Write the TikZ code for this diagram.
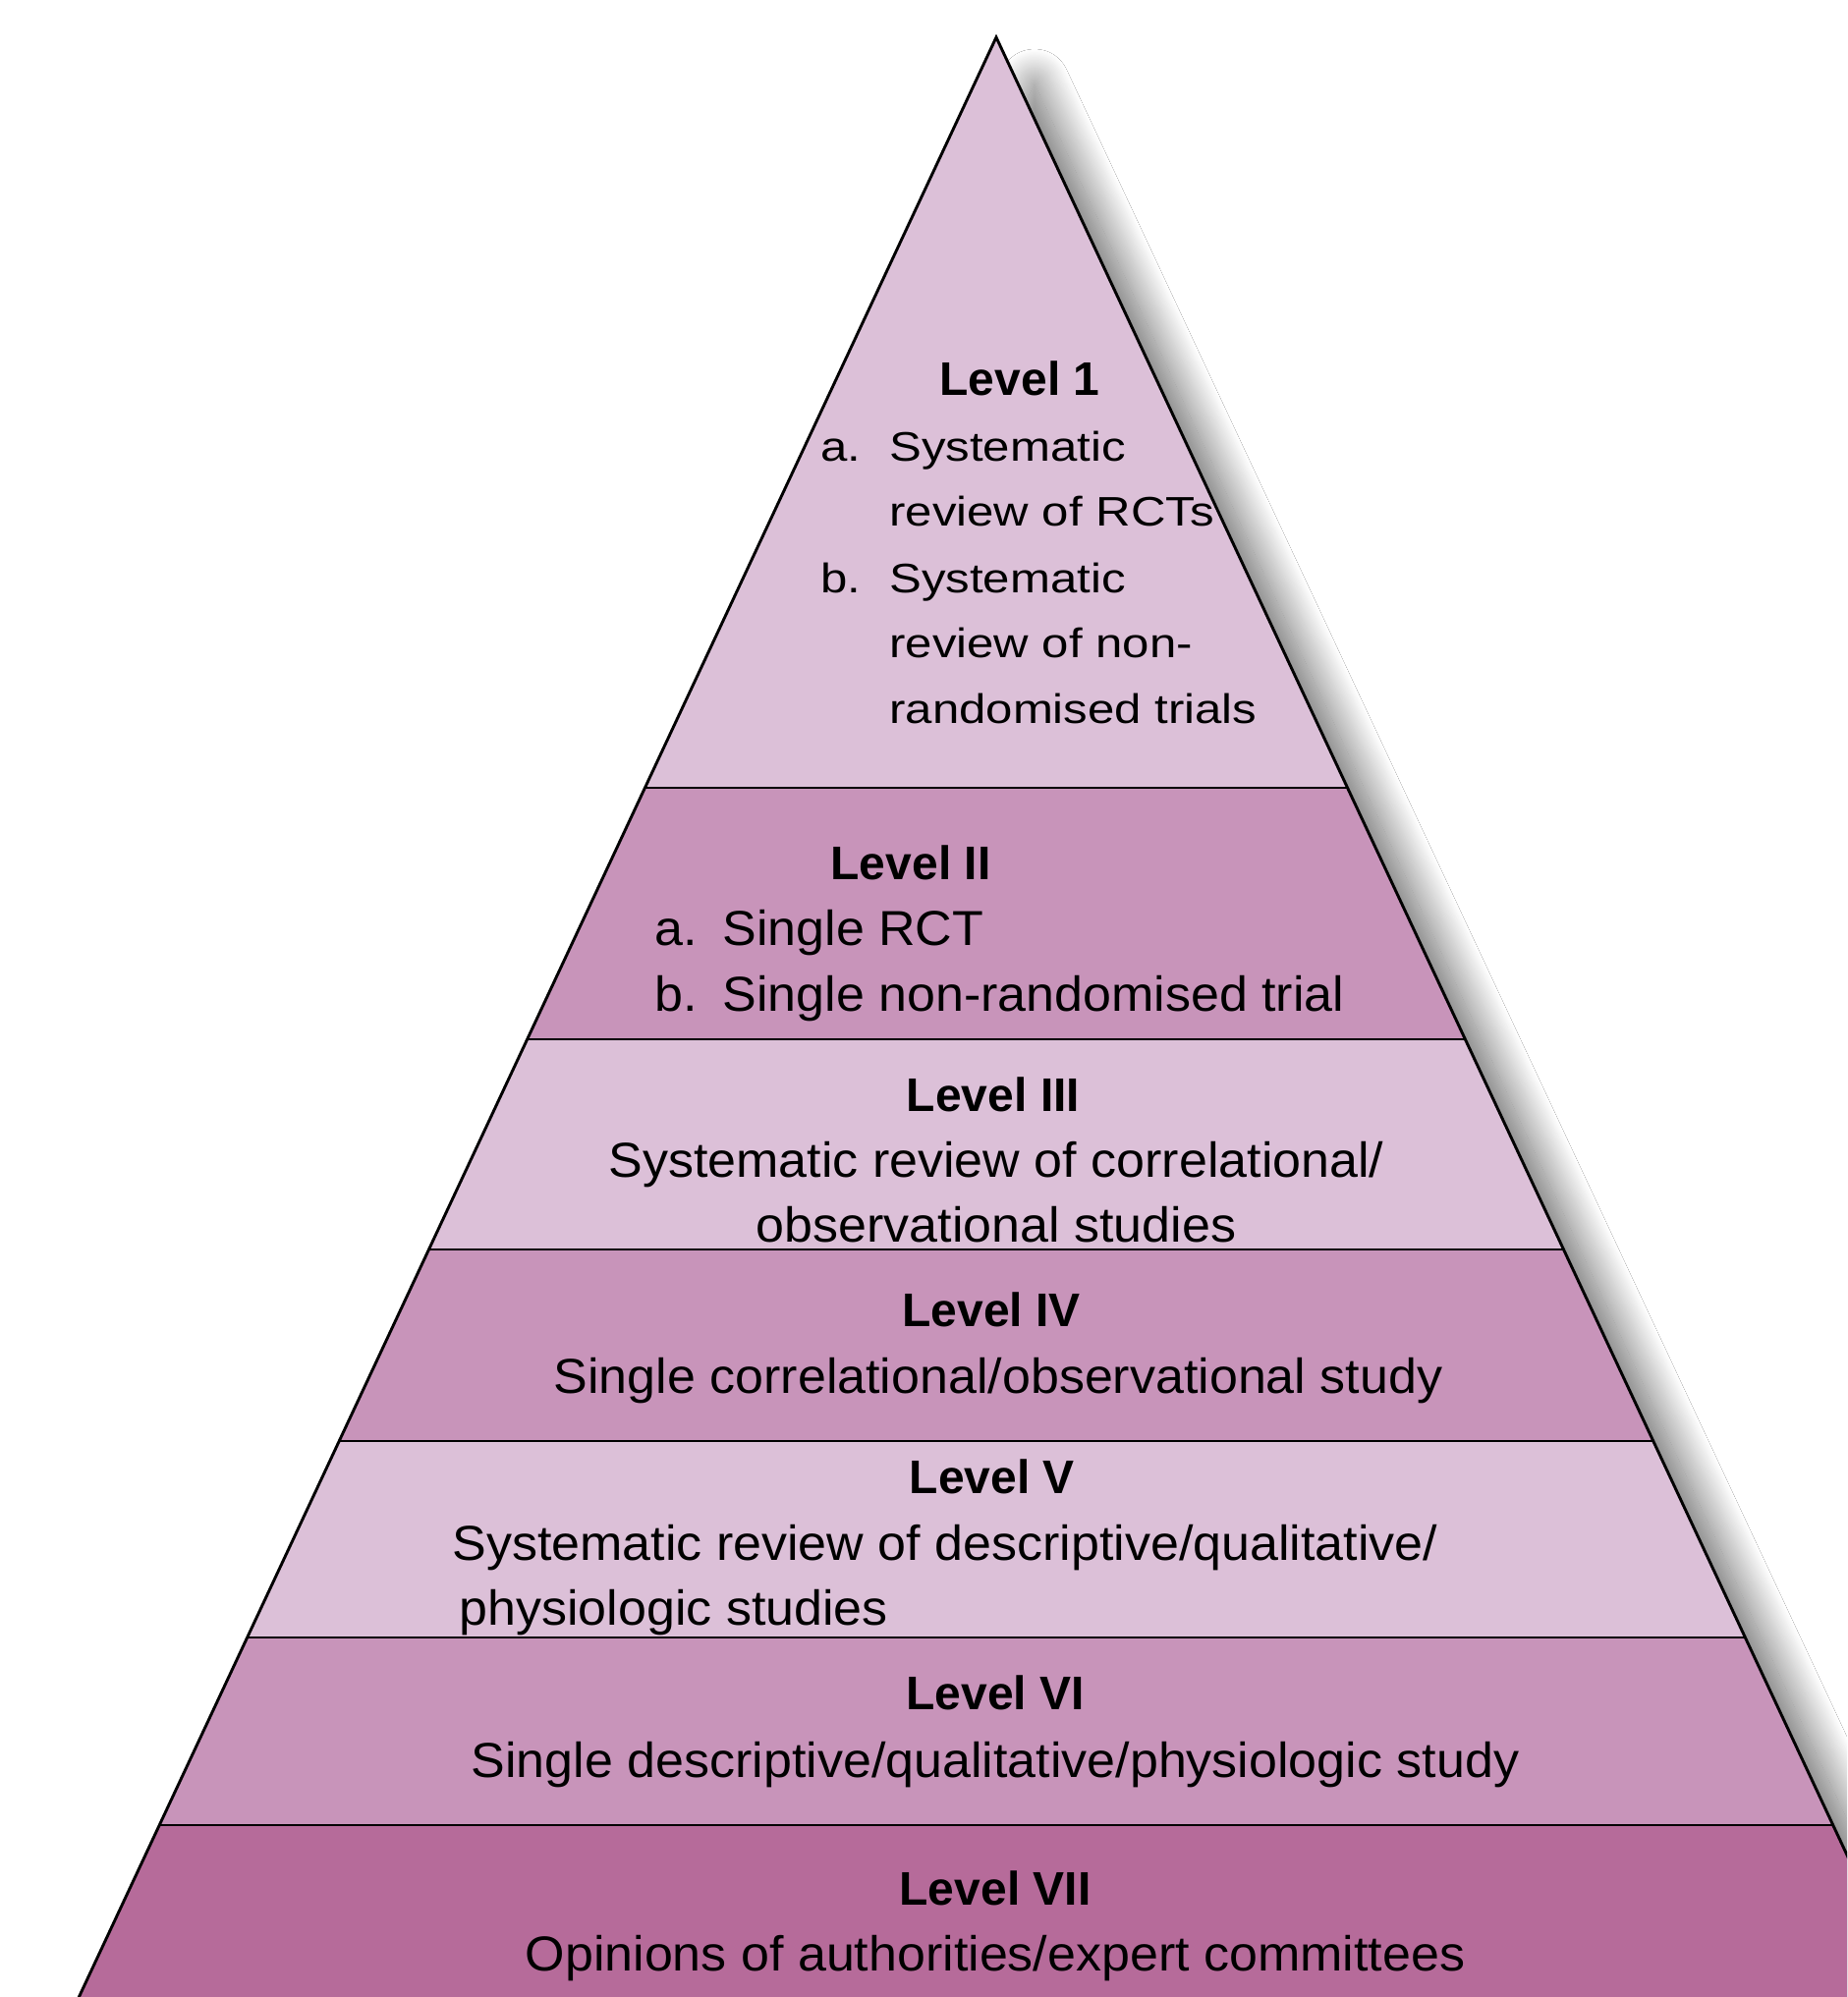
\documentclass[tikz,border=0pt]{standalone}
\usepackage{fontspec}
\setmainfont{Liberation Sans}
\newfontfamily\topf[FakeStretch=1.17]{Liberation Sans}
\newfontfamily\lowf[FakeStretch=1.04]{Liberation Sans}
\usetikzlibrary{shadows.blur}
\definecolor{bandlight}{HTML}{DCC0D8}
\definecolor{bandmid}{HTML}{C894BA}
\definecolor{banddark}{HTML}{B66B9A}
\tikzset{
  outline/.style={draw=black, line width=1.45pt, line join=miter},
  head/.style={anchor=base, inner sep=0pt, font=\fontsize{24}{28}\selectfont\bfseries},
  topitem/.style={anchor=base west, inner sep=0pt, font=\topf\fontsize{21}{25}\selectfont},
  lowtxt/.style={anchor=base, inner sep=0pt, font=\lowf\fontsize{25}{30}\selectfont},
  lowleft/.style={lowtxt, anchor=base west}
}
\begin{document}
\begin{tikzpicture}[x=0.5pt,y=-0.5pt]
\useasboundingbox (0,0) rectangle (1880,2033);
\fill[white] (0,0) rectangle (1880,2033);
\begin{scope}
\clip (0,0) rectangle (1880,2033);
\coordinate (apex) at (1014,38);
\coordinate (l1) at (656.4,802);  \coordinate (r1) at (1371.6,802);
\coordinate (l2) at (536.6,1058); \coordinate (r2) at (1491.4,1058);
\coordinate (l3) at (436.5,1272); \coordinate (r3) at (1591.5,1272);
\coordinate (l4) at (345.2,1467); \coordinate (r4) at (1682.8,1467);
\coordinate (l5) at (251.6,1667); \coordinate (r5) at (1776.4,1667);
\coordinate (l6) at (162.2,1858); \coordinate (r6) at (1865.8,1858);
\coordinate (l7) at (49,2100);    \coordinate (r7) at (1979,2100);
\coordinate (sa) at (1014,70);
\coordinate (sl) at (49,2132);
\coordinate (sr) at (1979,2132);
\begin{scope}
\clip (1014,0) -- (2100,0) -- (2100,2150) -- (l7) -- (apex) -- cycle;
\path[blur shadow={shadow xshift=19.5pt, shadow yshift=-8pt, shadow blur radius=18pt, shadow blur steps=50, shadow opacity=60}] (sa) -- (sl) -- (sr) -- cycle;
\end{scope}
\fill[bandlight] (apex) -- (l7) -- (r7) -- cycle;
\fill[bandmid]   (l1) -- (r1) -- (r2) -- (l2) -- cycle;
\fill[bandlight] (l2) -- (r2) -- (r3) -- (l3) -- cycle;
\fill[bandmid]   (l3) -- (r3) -- (r4) -- (l4) -- cycle;
\fill[bandlight] (l4) -- (r4) -- (r5) -- (l5) -- cycle;
\fill[bandmid]   (l5) -- (r5) -- (r6) -- (l6) -- cycle;
\fill[banddark]  (l6) -- (r6) -- (r7) -- (l7) -- cycle;
\draw[outline] (l7) -- (apex) -- (r7);
\foreach \i in {1,...,6} { \draw[outline] (l\i) -- (r\i); }
\end{scope}
% Level 1
\node[head] (h1) at (1038,402) {Level 1};
\node[topitem] (m1a) at (835,469.5) {a.};
\node[topitem] (t1a1) at (905,469.5) {Systematic};
\node[topitem] (t1a2) at (905,535.6) {review of RCTs};
\node[topitem] (m1b) at (835,603) {b.};
\node[topitem] (t1b1) at (905,603) {Systematic};
\node[topitem] (t1b2) at (905,669) {review of non-};
\node[topitem] (t1b3) at (905,736.6) {randomised trials};
% Level II
\node[head] (h2) at (927,895) {Level II};
\node[lowleft] (m2a) at (666,962) {a.};
\node[lowleft] (t2a) at (735,962) {Single RCT};
\node[lowleft] (m2b) at (666,1029) {b.};
\node[lowleft] (t2b) at (735,1029) {Single non-randomised trial};
% Level III
\node[head] (h3) at (1011,1131) {Level III};
\node[lowtxt] (t3a) at (1014,1198) {Systematic review of correlational/};
\node[lowtxt] (t3b) at (1014,1264) {observational studies};
% Level IV
\node[head] (h4) at (1009,1350) {Level IV};
\node[lowtxt] (t4) at (1016,1418) {Single correlational/observational study};
% Level V
\node[head] (h5) at (1010,1520) {Level V};
\node[lowleft] (t5a) at (460,1588) {Systematic review of descriptive/qualitative/};
\node[lowleft] (t5b) at (467,1654) {physiologic studies};
% Level VI
\node[head] (h6) at (1013,1740) {Level VI};
\node[lowtxt] (t6) at (1013,1809) {Single descriptive/qualitative/physiologic study};
% Level VII
\node[head] (h7) at (1013,1939) {Level VII};
\node[lowtxt] (t7) at (1013,2006) {Opinions of authorities/expert committees};
\end{tikzpicture}
\end{document}
